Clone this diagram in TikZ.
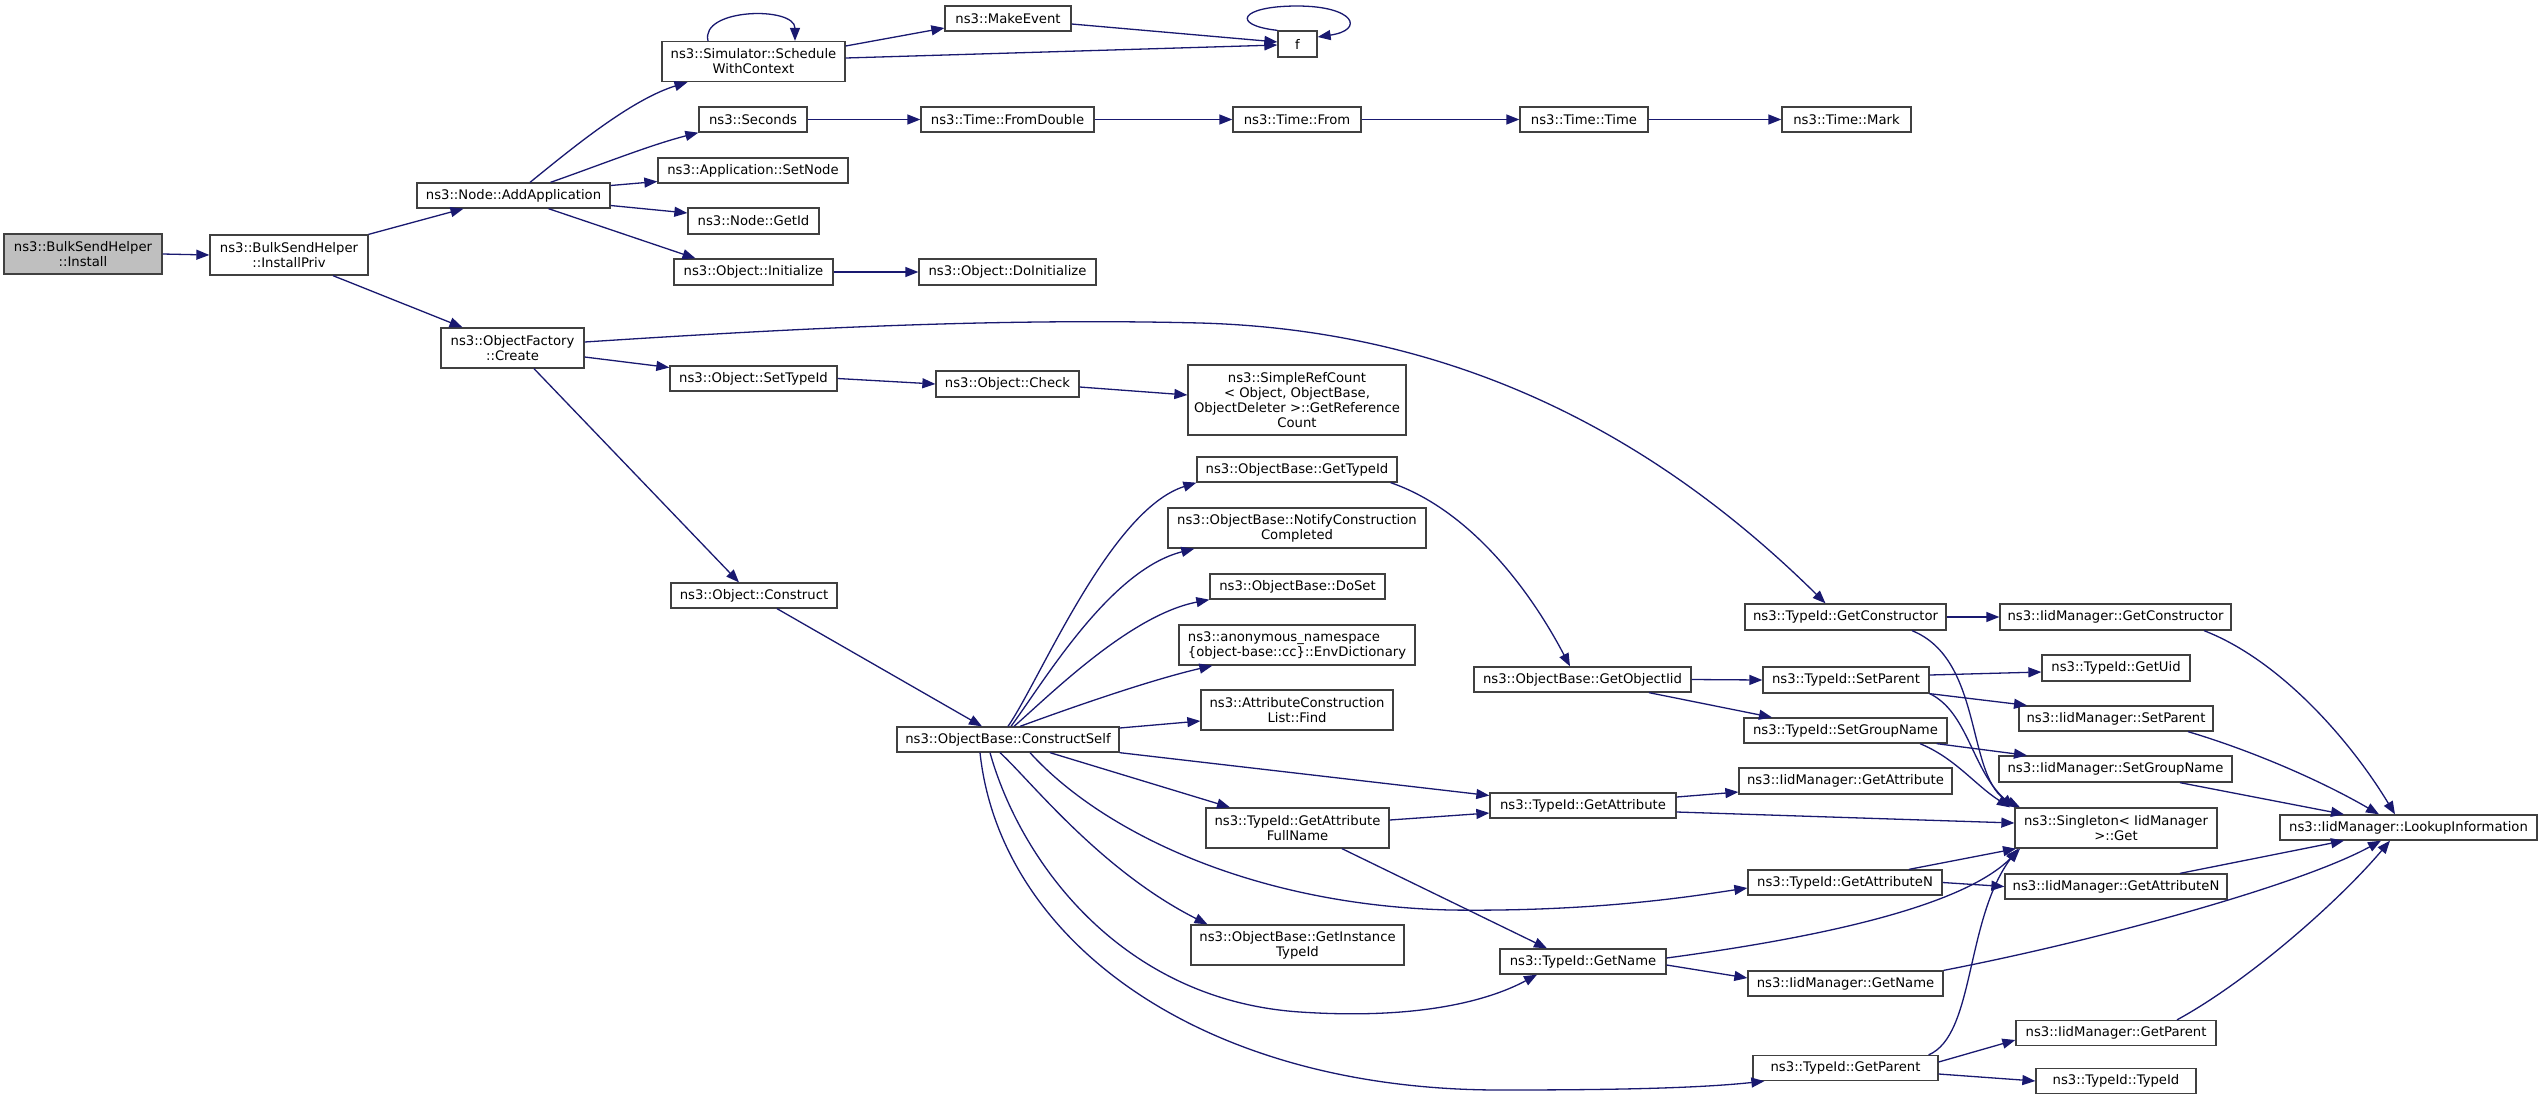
\documentclass[tikz,border=0pt]{standalone}
\usepackage{fontspec}
\setmainfont{DejaVu Sans}
\usetikzlibrary{arrows.meta}
\definecolor{edgec}{HTML}{191970}
\definecolor{boxc}{HTML}{404040}
\definecolor{selc}{HTML}{BFBFBF}
\newcommand\nd[6]{\node[box,minimum width=#4pt,minimum height=#5pt] (#1) at (#2,#3) {#6};}
\begin{document}
\begin{tikzpicture}[x=1pt,y=-1pt,
  box/.style={draw=boxc,line width=1.3pt,fill=white,inner sep=0pt,font=\fontsize{13.2}{15}\selectfont,align=center},
  cn/.style={draw=edgec,line width=1.3pt,-{Triangle[length=13pt,width=10pt]}}]
\useasboundingbox[fill=white] (0,0) rectangle (2541,1096);
% nodes
\node[box,minimum width=158pt,minimum height=40pt,fill=selc] (install) at (83,254) {ns3::BulkSendHelper\\::Install};
\nd{installpriv}{289}{255}{158}{40}{ns3::BulkSendHelper\\::InstallPriv}
\nd{addapp}{513.5}{195.5}{193}{25}{ns3::Node::AddApplication}
\nd{schedctx}{753.5}{61.5}{183}{40}{ns3::Simulator::Schedule\\WithContext}
\nd{seconds}{753}{119.5}{108}{25}{ns3::Seconds}
\nd{setnode}{753}{170.5}{190}{25}{ns3::Application::SetNode}
\nd{getid}{753.5}{221}{131}{26}{ns3::Node::GetId}
\nd{initialize}{753.5}{272}{159}{26}{ns3::Object::Initialize}
\nd{create}{512.5}{348}{143}{40}{ns3::ObjectFactory\\::Create}
\nd{settypeid}{753.5}{378.5}{167}{25}{ns3::Object::SetTypeId}
\nd{construct}{754}{595.5}{166}{25}{ns3::Object::Construct}
\nd{makeevent}{1008}{18.5}{126}{25}{ns3::MakeEvent}
\nd{fromdouble}{1007.5}{119.5}{173}{25}{ns3::Time::FromDouble}
\nd{doinit}{1007.5}{272}{177}{26}{ns3::Object::DoInitialize}
\nd{check}{1007.5}{384}{143}{26}{ns3::Object::Check}
\nd{constructself}{1008}{739.5}{222}{25}{ns3::ObjectBase::ConstructSelf}
\nd{f}{1297.5}{44}{39}{26}{f}
\nd{timefrom}{1297}{119.5}{128}{25}{ns3::Time::From}
\nd{simplerefcount}{1297}{400}{218}{70}{ns3::SimpleRefCount\\< Object, ObjectBase,\\ ObjectDeleter >::GetReference\\Count}
\nd{gettypeid}{1297}{469.5}{200}{25}{ns3::ObjectBase::GetTypeId}
\nd{notify}{1297}{528}{258}{40}{ns3::ObjectBase::NotifyConstruction\\Completed}
\nd{doset}{1297.5}{586.5}{175}{25}{ns3::ObjectBase::DoSet}
\node[box,minimum width=236pt,minimum height=40pt,align=left] (envdict) at (1297,645) {ns3::anonymous\_namespace\\\{object-base::cc\}::EnvDictionary};
\nd{findattr}{1297}{710}{192}{40}{ns3::AttributeConstruction\\List::Find}
\nd{getattrfull}{1297.5}{828}{183}{40}{ns3::TypeId::GetAttribute\\FullName}
\nd{getinstance}{1297.5}{945}{213}{40}{ns3::ObjectBase::GetInstance\\TypeId}
\nd{timetime}{1584}{119.5}{128}{25}{ns3::Time::Time}
\nd{getobjectiid}{1582.5}{679.5}{217}{25}{ns3::ObjectBase::GetObjectIid}
\nd{tgetattribute}{1583}{805.5}{186}{25}{ns3::TypeId::GetAttribute}
\nd{tgetname}{1583}{961.5}{166}{25}{ns3::TypeId::GetName}
\nd{timemark}{1846.5}{119.5}{129}{25}{ns3::Time::Mark}
\nd{getconstructor}{1845.5}{617}{201}{26}{ns3::TypeId::GetConstructor}
\nd{setparent}{1846}{680}{166}{26}{ns3::TypeId::SetParent}
\nd{setgroupname}{1845.5}{730.5}{203}{25}{ns3::TypeId::SetGroupName}
\nd{iidgetattribute}{1845.5}{781}{213}{26}{ns3::IidManager::GetAttribute}
\nd{getattributeN}{1845}{882.5}{194}{25}{ns3::TypeId::GetAttributeN}
\nd{iidgetname}{1845.5}{983.5}{195}{25}{ns3::IidManager::GetName}
\nd{tgetparent}{1845.5}{1068}{185}{25}{ns3::TypeId::GetParent}
\nd{iidgetconstructor}{2115.5}{617}{231}{26}{ns3::IidManager::GetConstructor}
\nd{getuid}{2116}{668}{148}{26}{ns3::TypeId::GetUid}
\nd{iidsetparent}{2116}{718.5}{194}{25}{ns3::IidManager::SetParent}
\nd{iidsetgroupname}{2115.5}{769}{233}{26}{ns3::IidManager::SetGroupName}
\nd{singleton}{2116}{828}{202}{40}{ns3::Singleton< IidManager\\>::Get}
\nd{iidgetattributeN}{2116}{886.5}{222}{25}{ns3::IidManager::GetAttributeN}
\nd{iidgetparent}{2116}{1033}{200}{25}{ns3::IidManager::GetParent}
\nd{typeidtypeid}{2116}{1081}{160}{25}{ns3::TypeId::TypeId}
\nd{lookup}{2408.5}{827.5}{257}{25}{ns3::IidManager::LookupInformation}
% edges
\draw[cn] (install.east) -- (installpriv.west);
\draw[cn] (installpriv.north east) -- ([xshift=-50pt]addapp.south);
\draw[cn] ([xshift=44pt]installpriv.south) -- ([xshift=-50pt]create.north);
\draw[cn] ([xshift=16.5pt]addapp.north) .. controls (570,150) and (630,100) .. ([xshift=-66pt]schedctx.south);
\draw[cn] ([xshift=37pt]addapp.north) .. controls (600,165) and (650,145) .. (seconds.south west);
\draw[cn] ([yshift=10pt]addapp.east) -- ([yshift=-11pt]setnode.west);
\draw[cn] ([yshift=-10pt]addapp.east) -- ([yshift=8pt]getid.west);
\draw[cn] ([xshift=35pt]addapp.south) -- ([xshift=-58pt]initialize.north);
\draw[cn] ([xshift=-45.5pt]schedctx.north) .. controls (700,8) and (795,6) .. ([xshift=41.5pt]schedctx.north);
\draw[cn] ([yshift=15.5pt]schedctx.east) -- ([yshift=-9.5pt]makeevent.west);
\draw[cn] ([yshift=3.5pt]schedctx.east) -- ([yshift=-1pt]f.west);
\draw[cn] ([yshift=-5.5pt]makeevent.east) -- ([yshift=2pt]f.west);
\draw[cn] (f.north west) .. controls (1230,25) and (1240,6) .. (1297,6) .. controls (1355,6) and (1365,30) .. ([yshift=7pt]f.east);
\draw[cn] (seconds.east) -- (fromdouble.west);
\draw[cn] (fromdouble.east) -- (timefrom.west);
\draw[cn] (timefrom.east) -- (timetime.west);
\draw[cn] (timetime.east) -- (timemark.west);
\draw[cn] (initialize.east) -- (doinit.west);
\draw[cn] ([yshift=6pt]create.east) .. controls (800,328) and (1000,318) .. (1200,323) .. controls (1450,330) and (1650,430) .. ([xshift=-20pt]getconstructor.north);
\draw[cn] ([yshift=-9pt]create.east) -- ([yshift=11pt]settypeid.west);
\draw[cn] ([xshift=21.5pt]create.south) -- ([xshift=-15pt]construct.north);
\draw[cn] (settypeid.east) -- (check.west);
\draw[cn] ([yshift=-3pt]check.east) -- ([yshift=5pt]simplerefcount.west);
\draw[cn] ([xshift=23pt]construct.south) -- ([xshift=-26pt]constructself.north);
\draw[cn] (constructself.north) .. controls (1040,680) and (1110,510) .. (gettypeid.south west);
\draw[cn] ([xshift=3pt]constructself.north) .. controls (1045,680) and (1110,570) .. ([xshift=27pt]notify.south west);
\draw[cn] ([xshift=6pt]constructself.north) .. controls (1050,695) and (1130,615) .. (doset.south west);
\draw[cn] ([xshift=12pt]constructself.north) .. controls (1070,708) and (1150,680) .. ([xshift=34pt]envdict.south west);
\draw[cn] ([yshift=11.5pt]constructself.east) -- ([yshift=-11pt]findattr.west);
\draw[cn] (constructself.south east) -- ([yshift=10pt]tgetattribute.west);
\draw[cn] ([xshift=42pt]constructself.south) -- ([xshift=-67.5pt]getattrfull.north);
\draw[cn] ([xshift=22pt]constructself.south) .. controls (1100,830) and (1250,905) .. (1450,910) .. controls (1600,912) and (1700,895) .. ([yshift=-5.5pt]getattributeN.west);
\draw[cn] ([xshift=-8pt]constructself.south) .. controls (1030,780) and (1100,870) .. ([xshift=-90pt]getinstance.north);
\draw[cn] ([xshift=-18pt]constructself.south) .. controls (1020,860) and (1120,1000) .. (1300,1012) .. controls (1420,1020) and (1490,1000) .. ([xshift=-46pt]tgetname.south);
\draw[cn] ([xshift=-28pt]constructself.south) .. controls (1000,940) and (1200,1090) .. (1500,1090) .. controls (1620,1090) and (1700,1088) .. ([xshift=12pt]tgetparent.south west);
\draw[cn] ([xshift=-7pt]gettypeid.south east) .. controls (1470,510) and (1530,590) .. ([xshift=-12.5pt]getobjectiid.north);
\draw[cn] (getobjectiid.east) -- (setparent.west);
\draw[cn] ([xshift=66.5pt]getobjectiid.south) -- ([xshift=-73.5pt]setgroupname.north);
\draw[cn] ([yshift=8pt]getattrfull.east) -- ([yshift=-7.5pt]tgetattribute.west);
\draw[cn] ([xshift=44.5pt]getattrfull.south) -- ([xshift=-36pt]tgetname.north);
\draw[cn] ([yshift=8.5pt]tgetattribute.east) -- ([yshift=-11pt]iidgetattribute.west);
\draw[cn] ([yshift=-6.5pt]tgetattribute.east) -- ([yshift=5pt]singleton.west);
\draw[cn] ([yshift=3.5pt]tgetname.east) .. controls (1800,940) and (1960,910) .. ([xshift=-96pt]singleton.south);
\draw[cn] ([yshift=-3.5pt]tgetname.east) -- ([yshift=5.5pt]iidgetname.west);
\draw[cn] (getconstructor.east) -- (iidgetconstructor.west);
\draw[cn] ([xshift=66.5pt]getconstructor.south) .. controls (1985,660) and (1965,780) .. ([xshift=-96pt]singleton.north);
\draw[cn] ([yshift=5pt]setparent.east) -- ([yshift=-4pt]getuid.west);
\draw[cn] (setparent.south east) -- ([xshift=-89pt]iidsetparent.north);
\draw[cn] (setparent.south east) .. controls (1968,712) and (1972,770) .. ([xshift=-102pt]singleton.north);
\draw[cn] ([xshift=-11pt]setgroupname.south east) -- ([xshift=-88.5pt]iidsetgroupname.north);
\draw[cn] ([xshift=74.5pt]setgroupname.south) .. controls (1955,758) and (1975,785) .. ([xshift=-106pt]singleton.north);
\draw[cn] ([xshift=64pt]getattributeN.north) -- ([xshift=-100pt]singleton.south);
\draw[cn] (getattributeN.east) -- (iidgetattributeN.west);
\draw[cn] ([xshift=-10pt]tgetparent.north east) .. controls (1975,1035) and (1965,920) .. ([xshift=-98pt]singleton.south);
\draw[cn] ([yshift=6pt]tgetparent.east) -- ([yshift=-7pt]iidgetparent.west);
\draw[cn] ([yshift=-6pt]tgetparent.east) -- (typeidtypeid.west);
\draw[cn] ([xshift=88.5pt]iidgetconstructor.south) .. controls (2280,660) and (2350,740) .. ([xshift=-13.5pt]lookup.north);
\draw[cn] ([xshift=72pt]iidsetparent.south) .. controls (2250,750) and (2320,780) .. ([xshift=-29.5pt]lookup.north);
\draw[cn] ([xshift=64.5pt]iidsetgroupname.south) -- ([xshift=-64.5pt]lookup.north);
\draw[cn] ([xshift=64pt]iidgetattributeN.north) -- ([xshift=-64.5pt]lookup.south);
\draw[cn] (iidgetname.north east) .. controls (2100,940) and (2300,885) .. ([xshift=-27.5pt]lookup.south);
\draw[cn] ([xshift=61pt]iidgetparent.north) .. controls (2250,980) and (2340,900) .. ([xshift=-18.5pt]lookup.south);
\end{tikzpicture}
\end{document}
